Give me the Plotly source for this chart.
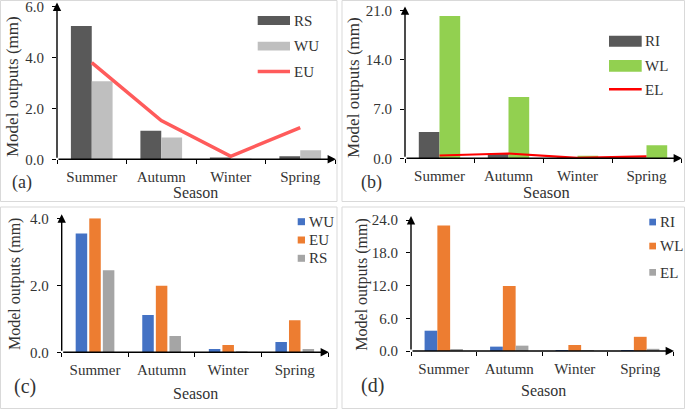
import plotly.graph_objects as go

# ---------------- data ----------------
seasons = ["Summer", "Autumn", "Winter", "Spring"]

a_RS = [5.24, 1.12, 0.03, 0.12]
a_WU = [3.07, 0.86, 0.02, 0.36]
a_EU = [3.80, 1.52, 0.12, 1.24]

b_RI = [3.75, 0.65, 0.05, 0.05]
b_WL = [20.2, 8.70, 0.35, 1.85]
b_EL = [0.40, 0.68, 0.05, 0.28]

c_WU = [3.55, 1.11, 0.10, 0.31]
c_EU = [4.00, 1.99, 0.22, 0.96]
c_RS = [2.45, 0.49, 0.01, 0.10]

d_RI = [3.72, 0.80, 0.02, 0.02]
d_WL = [23.0, 11.9, 1.10, 2.60]
d_EL = [0.37, 0.98, 0.05, 0.40]

a_ticks = [0, 2, 4, 6]
b_ticks = [0, 7, 14, 21]
c_ticks = [0, 2, 4]
d_ticks = [0, 6, 12, 18, 24]

# ---------------- helpers ----------------
W, H = 685, 409
FONT = "Times New Roman, Liberation Serif, DejaVu Serif, serif"
TXT = "#333333"


def px(x):
    return x / W


def py(y):
    return 1 - y / H


fig = go.Figure()

# panel geometry (pixels): x0, x1, ytop, ybottom
geo = {
    1: (57, 335, 6.6, 159.3),
    2: (405, 681, 10.4, 158.3),
    3: (61.7, 328, 218.3, 352.3),
    4: (411, 673, 220, 351),
}
ranges = {1: [0, 6], 2: [0, 21], 3: [0, 4], 4: [0, 24]}
tickv = {1: a_ticks, 2: b_ticks, 3: c_ticks, 4: d_ticks}


def ax(i, kind):
    return kind if i == 1 else f"{kind}{i}"


def bar(i, y, color, offset, width):
    fig.add_trace(go.Bar(x=seasons, y=y, marker=dict(color=color, line=dict(width=0)),
                         offset=offset, width=width, showlegend=False,
                         xaxis=ax(i, "x"), yaxis=ax(i, "y")))


def line(i, y, color, w):
    fig.add_trace(go.Scatter(x=seasons, y=y, mode="lines", line=dict(color=color, width=w),
                             showlegend=False, xaxis=ax(i, "x"), yaxis=ax(i, "y")))


# (a)
bar(1, a_RS, "#595959", -0.30, 0.30)
bar(1, a_WU, "#BFBFBF", 0.0, 0.30)
line(1, a_EU, "#FF5B5B", 3.5)
# (b)
bar(2, b_RI, "#595959", -0.30, 0.30)
bar(2, b_WL, "#92D050", 0.0, 0.30)
line(2, b_EL, "#FF0000", 2.2)
# (c)
bar(3, c_WU, "#4472C4", -0.29, 0.173)
bar(3, c_EU, "#ED7D31", -0.086, 0.173)
bar(3, c_RS, "#A5A5A5", 0.118, 0.173)
# (d)
bar(4, d_RI, "#4472C4", -0.2925, 0.195)
bar(4, d_WL, "#ED7D31", -0.0975, 0.195)
bar(4, d_EL, "#A5A5A5", 0.0975, 0.195)

layout = dict(
    width=W, height=H, margin=dict(l=0, r=0, t=0, b=0, pad=0, autoexpand=False),
    plot_bgcolor="white", paper_bgcolor="white", showlegend=False,
    barmode="overlay", font=dict(family=FONT, color=TXT, size=15),
)

annotations = []
shapes = []

for i in range(1, 5):
    x0, x1, yt, yb = geo[i]
    xa = "xaxis" if i == 1 else f"xaxis{i}"
    ya = "yaxis" if i == 1 else f"yaxis{i}"
    layout[xa] = dict(domain=[px(x0), px(x1)], anchor=ax(i, "y"), type="category",
                      categoryorder="array", categoryarray=seasons, range=[-0.5, 3.5],
                      showline=False, showgrid=False, zeroline=False, automargin=False,
                      ticks="outside", tickson="boundaries", ticklen=4, tickwidth=1,
                      tickcolor="black", ticklabelstandoff=7, ticklabeloverflow="allow",
                      tickfont=dict(family=FONT, size=15, color=TXT))
    layout[ya] = dict(domain=[py(yb), py(yt)], anchor=ax(i, "x"), range=ranges[i],
                      tickvals=tickv[i], tickformat=".1f", automargin=False,
                      showline=False, showgrid=False, zeroline=False,
                      ticks="outside", ticklen=4, tickwidth=1, tickcolor="black",
                      ticklabelstandoff=5, ticklabeloverflow="allow",
                      tickfont=dict(family=FONT, size=15, color=TXT))
    hgt = yb - yt
    wid = x1 - x0
    xr = ax(i, "x") + " domain"
    yr = ax(i, "y") + " domain"
    # y axis with arrow
    annotations.append(dict(xref=xr, yref=yr, axref=xr, ayref=yr, x=0, y=1 + 4 / hgt,
                            ax=0, ay=0, text="", showarrow=True, arrowhead=2,
                            arrowsize=1.2, arrowwidth=1.4, arrowcolor="black"))
    # x axis with arrow
    annotations.append(dict(xref=xr, yref=yr, axref=xr, ayref=yr, x=1 + 1 / wid, y=0,
                            ax=0, ay=0, text="", showarrow=True, arrowhead=2,
                            arrowsize=1.2, arrowwidth=1.4, arrowcolor="black"))

# panel borders
for (bx0, by0, bx1, by1) in [(0.5, 0.5, 337, 201.5), (342, 0.5, 684.5, 201.5),
                              (0.5, 207, 337, 408.5), (342, 207, 684.5, 408.5)]:
    shapes.append(dict(type="rect", xref="paper", yref="paper", x0=px(bx0), x1=px(bx1),
                       y0=py(by1), y1=py(by0), line=dict(color="#D9D9D9", width=1),
                       fillcolor="rgba(0,0,0,0)", layer="below"))


def text(x, y, s, size, angle=0, anchor="center"):
    annotations.append(dict(xref="paper", yref="paper", x=px(x), y=py(y), text=s,
                            showarrow=False, textangle=angle, xanchor=anchor,
                            yanchor="middle", font=dict(family=FONT, size=size, color=TXT)))


# axis titles
text(12, 87, "Model outputs (mm)", 17, -90)
text(196, 192.5, "Season", 16)
text(353, 87, "Model outputs (mm)", 17, -90)
text(546, 192.5, "Season", 16.5)
text(15, 284, "Model outputs (mm)", 16, -90)
text(196, 393, "Season", 16)
text(361.7, 285, "Model outputs (mm)", 16, -90)
text(543, 390, "Season", 16)

# panel labels
text(21.7, 182.7, "(a)", 18)
text(371.7, 182.7, "(b)", 18)
text(25, 386.5, "(c)", 20)
text(372.5, 385, "(d)", 20)


def lrect(x0, x1, y0, y1, color):
    shapes.append(dict(type="rect", xref="paper", yref="paper", x0=px(x0), x1=px(x1),
                       y0=py(y1), y1=py(y0), line=dict(width=0), fillcolor=color))


def lline(x0, x1, y, color, w):
    shapes.append(dict(type="line", xref="paper", yref="paper", x0=px(x0), x1=px(x1),
                       y0=py(y), y1=py(y), line=dict(color=color, width=w)))


# legend (a)
lrect(257.7, 290, 16, 25, "#595959"); text(292, 20.5, "RS", 15, anchor="left")
lrect(257.7, 290, 41.7, 50.5, "#BFBFBF"); text(292, 46, "WU", 15, anchor="left")
lline(257.7, 290, 71.5, "#FF5B5B", 3.5); text(292, 72, "EU", 15, anchor="left")
# legend (b)
lrect(609, 641.7, 35.7, 46.7, "#595959"); text(643, 41, "RI", 15, anchor="left")
lrect(609, 641.7, 60, 71.7, "#92D050"); text(643, 65.7, "WL", 15, anchor="left")
lline(609, 641.7, 89.3, "#FF0000", 2.5); text(643, 90, "EL", 15, anchor="left")
# legend (c)
lrect(297.7, 305, 218.2, 225.2, "#4472C4"); text(306.5, 221.7, "WU", 15, anchor="left")
lrect(297.7, 305, 236.5, 243.5, "#ED7D31"); text(306.5, 240, "EU", 15, anchor="left")
lrect(297.7, 305, 254.8, 261.8, "#A5A5A5"); text(306.5, 258.3, "RS", 15, anchor="left")
# legend (d)
lrect(649.3, 656, 218.7, 225.4, "#4472C4"); text(657.5, 222, "RI", 15, anchor="left")
lrect(649.3, 656, 242.7, 249.4, "#ED7D31"); text(657.5, 246, "WL", 15, anchor="left")
lrect(649.3, 656, 269, 275.7, "#A5A5A5"); text(657.5, 272.5, "EL", 15, anchor="left")

layout["annotations"] = annotations
layout["shapes"] = shapes
fig.update_layout(**layout)
fig.write_html(
    "out.html",
    config={"displayModeBar": False},
    post_script="document.body.style.margin='0px';document.body.style.padding='0px';"
                "document.body.style.overflow='hidden';",
)
